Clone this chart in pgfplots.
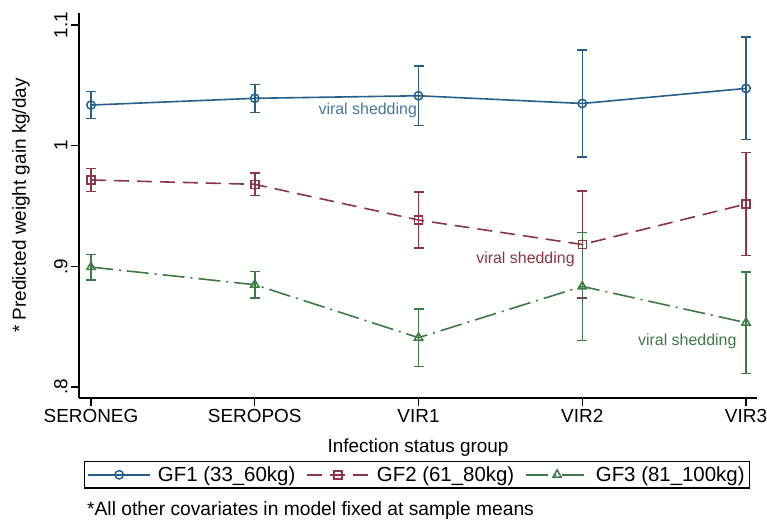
\documentclass[border=0pt]{standalone}
\usepackage{pgfplots}
\pgfplotsset{compat=1.18}
\usepackage{fontspec}
\setmainfont{Liberation Sans}
\definecolor{cblue}{RGB}{38,96,138}
\definecolor{cred}{RGB}{140,52,72}
\definecolor{cgreen}{RGB}{62,122,70}
\begin{document}
\begin{tikzpicture}
\path[use as bounding box] (-79bp,-129bp) rectangle (688bp,398bp);
\begin{axis}[
  at={(0,0)}, anchor=south west,
  scale only axis, width=678bp, height=385bp,
  clip=false,
  xmin=-0.0733, xmax=4.067, ymin=0.7909, ymax=1.110,
  axis x line*=bottom, axis y line*=left,
  axis line style={line width=1.3bp, -},
  tick align=outside, major tick length=8bp,
  tick style={line width=1.3bp, black},
  xtick={0,1,2,3,4},
  xticklabels={SERONEG,SEROPOS,VIR1,VIR2,VIR3},
  ytick={0.8,0.9,1,1.1},
  yticklabels={.8,.9,1,1.1},
  yticklabel style={rotate=90, anchor=south},
  ticklabel style={font=\fontsize{19}{22}\selectfont},
  xlabel={Infection status group},
  ylabel={* Predicted weight gain kg/day},
  label style={font=\fontsize{19}{22}\selectfont},
  ylabel style={at={(axis description cs:-0.0855,0.5)}, anchor=center},
  xlabel style={at={(axis description cs:0.5,-0.128)}, anchor=center},
  legend columns=3,
  legend style={at={(axis description cs:0.4985,-0.1636)}, anchor=north,
    draw=black, line width=1.3bp, font=\fontsize{20.5}{23}\selectfont,
    inner xsep=3bp, inner ysep=3bp,
    /tikz/every odd column/.append style={column sep=5bp},
    /tikz/every even column/.append style={column sep=9bp}},
  legend image code/.code={\draw[mark repeat=2,mark phase=2,#1] plot coordinates {(0bp,0bp) (31bp,0bp) (62bp,0bp)};},
  error bars/error bar style={solid, line width=1.5bp},
  error bars/error mark options={rotate=90, mark size=5bp, line width=1.5bp},
]
\addplot+[cblue, solid, line width=1.6bp, mark=o, mark size=4.2bp, mark options={solid, line width=1.5bp},
  error bars/.cd, y dir=both, y explicit]
  coordinates {
  (0,1.0337) +- (0,0.0113)
  (1,1.0393) +- (0,0.0116)
  (2,1.0414) +- (0,0.0246)
  (3,1.0350) +- (0,0.0444)
  (4,1.0475) +- (0,0.0425)
  };
\addlegendentry{GF1 (33\_60kg)}
\addplot+[cred, dash pattern=on 15bp off 8bp, line width=1.6bp, mark=square, mark size=4bp, mark options={solid, line width=1.5bp},
  error bars/.cd, y dir=both, y explicit]
  coordinates {
  (0,0.9716) +- (0,0.0095)
  (1,0.9680) +- (0,0.0094)
  (2,0.9384) +- (0,0.0232)
  (3,0.9181) +- (0,0.0444)
  (4,0.9517) +- (0,0.0425)
  };
\addlegendentry{GF2 (61\_80kg)}
\addplot+[cgreen, dash pattern=on 22bp off 6bp on 2bp off 6bp, line width=1.6bp, mark=triangle, mark size=4.8bp, mark options={solid, line width=1.5bp},
  error bars/.cd, y dir=both, y explicit]
  coordinates {
  (0,0.8994) +- (0,0.0105)
  (1,0.8848) +- (0,0.0110)
  (2,0.8409) +- (0,0.0237)
  (3,0.8834) +- (0,0.0448)
  (4,0.8533) +- (0,0.0420)
  };
\addlegendentry{GF3 (81\_100kg)}
\node[anchor=west, text=cblue!85!white, font=\fontsize{16}{19}\selectfont] at (axis cs:1.368,1.0296) {viral shedding};
\node[anchor=east, text=cred, font=\fontsize{16}{19}\selectfont] at (axis cs:2.975,0.9061) {viral shedding};
\node[anchor=east, text=cgreen, font=\fontsize{16}{19}\selectfont] at (axis cs:3.963,0.8379) {viral shedding};
\node[anchor=west, font=\fontsize{19.3}{22}\selectfont, inner sep=0pt] at (axis description cs:0.0118,-0.2935) {*All other covariates in model fixed at sample means};
\end{axis}
\end{tikzpicture}
\end{document}
